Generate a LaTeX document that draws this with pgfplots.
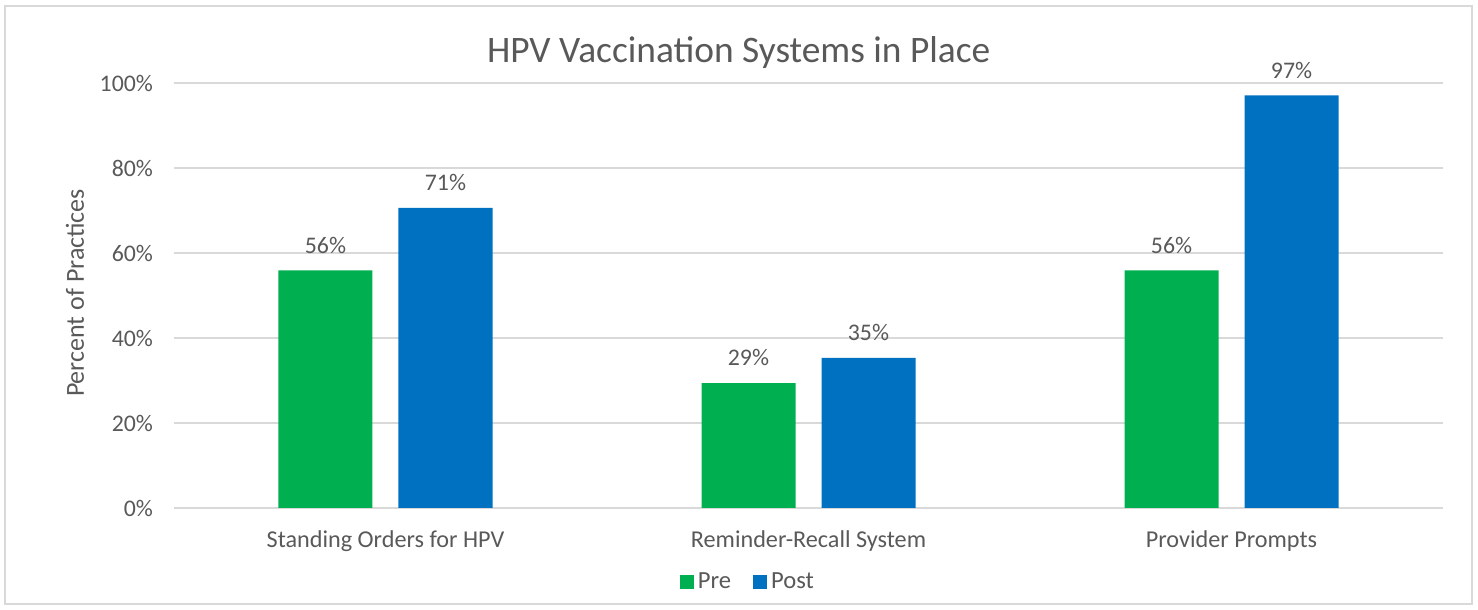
\documentclass[border=0pt]{standalone}
\usepackage{pgfplots}
\pgfplotsset{compat=1.18}
\usepackage{fontspec}
\setmainfont{Carlito}
\definecolor{pregreen}{RGB}{0,176,80}
\definecolor{postblue}{RGB}{0,112,192}
\definecolor{txtgray}{RGB}{89,89,89}
\definecolor{gridgray}{RGB}{217,217,217}
\begin{document}
\begin{tikzpicture}
\path (-87pt,-51pt) rectangle (652pt,254pt);
\draw[gridgray,line width=1pt] (-84.5pt,-48pt) rectangle (649pt,251pt);
\begin{axis}[
  at={(0pt,0pt)}, anchor=south west,
  scale only axis, width=634.5pt, height=212.5pt,
  ybar=13pt, bar width=47pt,
  xmin=-0.5, xmax=2.5, ymin=0, ymax=100,
  xtick=data,
  xticklabels={Standing Orders for HPV, Reminder-Recall System, Provider Prompts},
  ytick={0,20,40,60,80,100},
  yticklabel={\pgfmathprintnumber{\tick}\%},
  /pgf/number format/assume math mode=true,
  ymajorgrids, grid style={gridgray,line width=1pt},
  axis line style={draw=none},
  major tick length=0pt,
  tick label style={font=\fontsize{11.9}{14}\selectfont, text=txtgray},
  xticklabel style={yshift=-8pt, font=\fontsize{12.1}{14}\selectfont},
  yticklabel style={xshift=-7pt},
  ylabel={Percent of Practices},
  ylabel style={at={(axis description cs:-0.078,0.506)}, rotate=0, anchor=center,
    font=\fontsize{13}{15}\selectfont, text=txtgray},
  title={HPV Vaccination Systems in Place},
  title style={at={(axis description cs:0.445,1.043)}, anchor=center,
    font=\fontsize{18.7}{22}\selectfont, text=txtgray},
  nodes near coords={\pgfmathprintnumber[fixed,precision=0]{\pgfplotspointmeta}\%},
  nodes near coords style={font=\fontsize{11.9}{14}\selectfont, text=txtgray, anchor=south, yshift=5pt},
  legend columns=2,
  legend style={at={(axis description cs:0.453,-0.174)}, anchor=center, draw=none, fill=none,
    font=\fontsize{12.3}{14}\selectfont, text=txtgray,
    /tikz/every even column/.append style={column sep=9pt}},
  legend image code/.code={\fill[#1] (0pt,-3.5pt) rectangle (7pt,3.5pt);},
]
\addplot[draw=none, fill=pregreen] coordinates {(0,55.9) (1,29.4) (2,55.9)};
\addplot[draw=none, fill=postblue] coordinates {(0,70.6) (1,35.3) (2,97.1)};
\legend{Pre, Post}
\end{axis}
\end{tikzpicture}
\end{document}
